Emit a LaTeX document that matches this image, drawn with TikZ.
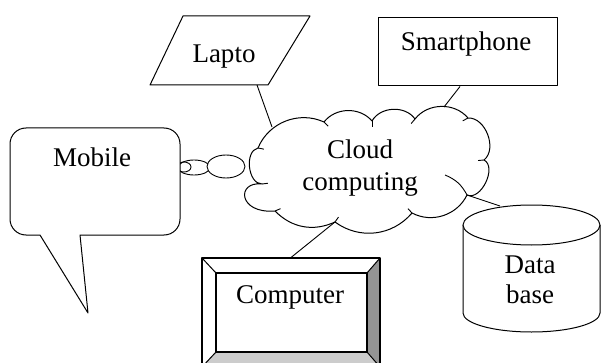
\documentclass[tikz,border=0pt]{standalone}
\usepackage{fontspec}
\setmainfont{Liberation Serif}
\usetikzlibrary{calc}
\begin{document}
\begin{tikzpicture}[x=1pt,y=-1pt,line width=1pt,line join=round,
  lbl/.style={font=\fontsize{27}{30}\selectfont,inner sep=0pt,anchor=base},
  link/.style={draw,line width=0.9pt},
  bubble/.style={draw,line width=0.9pt},
  hook/.style={draw,line width=0.9pt}]
\clip (0,0) rectangle (601,363);
\fill[white] (0,0) rectangle (601,363);
% cloud
\coordinate (cA) at (258,148);
\coordinate (cB) at (324,122);
\coordinate (cC) at (372,121);
\coordinate (cD) at (415,119);
\coordinate (cE) at (468,118);
\coordinate (cF) at (484,160);
\coordinate (cG) at (467,195);
\coordinate (cH) at (412,213);
\coordinate (cI) at (335,222);
\coordinate (cJ) at (275,211);
\coordinate (cK) at (262,184);
\coordinate (cM) at (372,170);
\draw[fill=white] (cA) to[bend left=46] (cB) to[bend left=51] (cC) to[bend left=58] (cD)
  to[bend left=51] (cE) to[bend left=72] (cF) to[bend left=88] (cG) to[bend left=46] (cH)
  to[bend left=43] (cI) to[bend left=35] (cJ) .. controls (238,214) and (236,181) .. (cK)
  to[bend left=84] (cA) -- cycle;
\foreach \p in {cA,cB,cC,cD,cE,cF,cH,cI,cJ,cK}
  \draw[hook] (\p) -- ($(\p)!6pt!(cM)$);
\draw[hook] (445,175) to[bend left=20] (cG);
\node[lbl] (cloudA) at (360,159) {Cloud};
\node[lbl] (cloudB) at (360,190) {computing};
% thought bubbles
\draw[bubble] (184,167) ellipse [x radius=7pt,y radius=5pt];
\draw[bubble] (194,167.5) ellipse [x radius=16pt,y radius=7.5pt];
\draw[bubble,fill=white] (226,166.5) ellipse [x radius=19pt,y radius=11.5pt];
% mobile callout
\draw[fill=white] (80,235) -- (164,235) arc[start angle=270,end angle=360,radius=16pt]
  -- (180,144) arc[start angle=0,end angle=90,radius=16pt]
  -- (26,128) arc[start angle=90,end angle=180,radius=16pt]
  -- (10,219) arc[start angle=180,end angle=270,radius=16pt]
  -- (40,235) -- (88,313) -- cycle;
\node[lbl] (mobile) at (92,167) {Mobile};
% laptop
\draw[fill=white] (150,85) -- (183,16) -- (310,16) -- (268,85) -- cycle;
\node[lbl] (lapto) at (224,63) {Lapto};
\coordinate (lapfoot) at (257,85);
% smartphone
\node[draw,fill=white,minimum width=179pt,minimum height=68pt,inner sep=0pt] (smart) at (467.5,52) {};
\node[lbl] (smarttxt) at (466,51) {Smartphone};
% computer
\fill[white] (202,258) rectangle (380,367);
\fill[black!42] (380,258) -- (367,273) -- (367,352) -- (380,367) -- cycle;
\fill[black!20] (216,352) -- (367,352) -- (380,367) -- (202,367) -- cycle;
\draw[line width=1.3pt] (202,258) rectangle (380,367);
\draw[line width=1.2pt] (216,273) rectangle (367,352);
\draw (202,258) -- (216,273) (380,258) -- (367,273) (202,367) -- (216,352) (380,367) -- (367,352);
\node[minimum width=178pt,minimum height=109pt,inner sep=0pt] (comp) at (291,312.5) {};
\node[lbl] (comptxt) at (290,303) {Computer};
% database
\draw[fill=white] (463,225) -- (463,313) arc[start angle=180,end angle=360,x radius=68.5pt,y radius=19pt] -- (600,225);
\draw[fill=white] (531.5,225) ellipse [x radius=68.5pt,y radius=20pt];
\node[lbl] (dbA) at (530,273) {Data};
\node[lbl] (dbB) at (530,303) {base};
\coordinate (dbtop) at (500,206);
% connectors
\coordinate (cl1) at (272,127);
\coordinate (cl2) at (444,107);
\draw[link] (lapfoot) -- (cl1);
\draw[link] ([xshift=-7.5pt]smart.south) -- (cl2);
\draw[link] (comp.north) -- (cI);
\draw[link] (cG) -- (dbtop);
\end{tikzpicture}
\end{document}
